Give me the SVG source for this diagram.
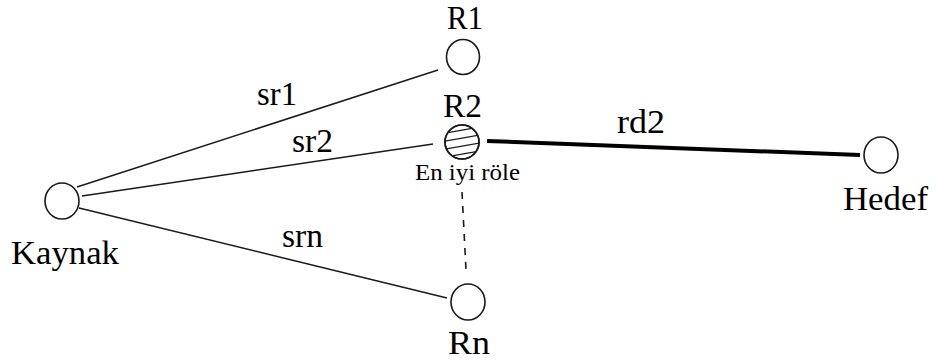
<svg xmlns="http://www.w3.org/2000/svg" width="940" height="363" viewBox="0 0 940 363">
  <style>
    .node { fill: #ffffff; stroke: #1a1a1a; stroke-width: 1.6; }
    .edge { stroke: #1a1a1a; stroke-width: 1.5; fill: none; }
    .best { stroke: #000000; stroke-width: 4; fill: none; }
    .alt { stroke: #1a1a1a; stroke-width: 1.6; stroke-dasharray: 7 7; fill: none; }
    .hatch { stroke: #1a1a1a; stroke-width: 1.3; }
    .lbl { font-size: 33px; }
    .small { font-size: 24px; }
  </style>
  <defs>
    <clipPath id="r2clip">
      <ellipse cx="462" cy="142" rx="17" ry="17"/>
    </clipPath>
  </defs>

  <g id="connectors">
    <line class="edge" x1="77" y1="187" x2="438" y2="70"/>
    <line class="edge" x1="82" y1="196" x2="433" y2="144"/>
    <line class="edge" x1="79" y1="208" x2="447" y2="298"/>
    <line class="alt" x1="462" y1="192" x2="466" y2="270"/>
    <line class="best" x1="487" y1="141" x2="860" y2="155"/>
  </g>

  <g font-family="'Liberation Serif', 'Times New Roman', serif" fill="#000000">
    <g id="kaynak">
      <ellipse class="node" cx="62" cy="201" rx="17" ry="18"/>
      <text class="lbl" x="11" y="264" textLength="108" lengthAdjust="spacingAndGlyphs">Kaynak</text>
    </g>

    <g id="r1">
      <ellipse class="node" cx="463" cy="57" rx="16.5" ry="17.5"/>
      <text class="lbl" x="447" y="29" textLength="36" lengthAdjust="spacingAndGlyphs">R1</text>
    </g>

    <g id="r2">
      <ellipse class="node" cx="462" cy="142" rx="17" ry="17"/>
      <g clip-path="url(#r2clip)">
        <line class="hatch" x1="440" y1="134" x2="485" y2="126"/>
        <line class="hatch" x1="440" y1="142" x2="485" y2="134"/>
        <line class="hatch" x1="440" y1="150" x2="485" y2="142"/>
        <line class="hatch" x1="440" y1="158" x2="485" y2="150"/>
      </g>
      <ellipse cx="462" cy="142" rx="17" ry="17" fill="none" stroke="#1a1a1a" stroke-width="1.6"/>
      <text class="lbl" x="443" y="117" textLength="39" lengthAdjust="spacingAndGlyphs">R2</text>
      <text class="small" x="415" y="180" textLength="105" lengthAdjust="spacingAndGlyphs">En iyi röle</text>
    </g>

    <g id="rn">
      <ellipse class="node" cx="468" cy="302" rx="17" ry="18"/>
      <text class="lbl" x="448" y="354" textLength="42" lengthAdjust="spacingAndGlyphs">Rn</text>
    </g>

    <g id="hedef">
      <ellipse class="node" cx="881" cy="155" rx="17" ry="18"/>
      <text class="lbl" x="843" y="210" textLength="85" lengthAdjust="spacingAndGlyphs">Hedef</text>
    </g>

    <g id="edge-labels">
      <text class="lbl" x="257" y="105" textLength="40" lengthAdjust="spacingAndGlyphs">sr1</text>
      <text class="lbl" x="292" y="152" textLength="41" lengthAdjust="spacingAndGlyphs">sr2</text>
      <text class="lbl" x="282" y="247" textLength="41" lengthAdjust="spacingAndGlyphs">srn</text>
      <text class="lbl" x="617" y="133" textLength="48" lengthAdjust="spacingAndGlyphs">rd2</text>
    </g>
  </g>
</svg>
